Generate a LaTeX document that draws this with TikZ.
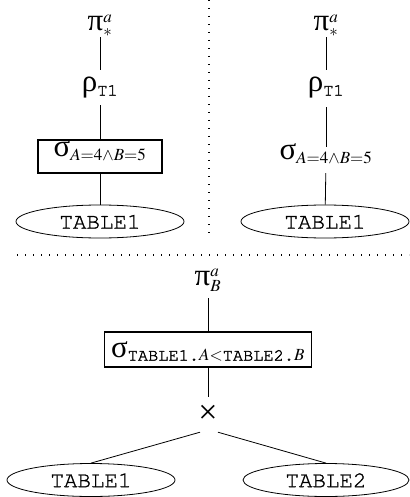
\documentclass[tikz,border=0pt]{standalone}
\usepackage{mathptmx}
\usepackage{amsmath}
\usepackage[T1]{fontenc}
\usepackage[no-math]{fontspec}
\setmainfont{Liberation Serif}
\usetikzlibrary{shapes.geometric}
\DeclareMathSizes{24}{24}{17}{12}
\newcommand{\cour}{\fontencoding{T1}\fontfamily{pcr}\selectfont}
\newcommand{\thk}[1]{\special{pdf:literal direct 2 Tr 0.28 w}#1\special{pdf:literal direct 0 Tr}}
\newcommand{\gk}[1]{{\fontsize{31}{34}\selectfont #1}}
\newcommand{\ct}[1]{\text{\cour\thk{#1}}}
\begin{document}
\begin{tikzpicture}[x=1pt,y=-1pt,
  lbl/.style={inner sep=0pt, anchor=base, font=\fontsize{24}{28}\selectfont},
  selbox/.style={lbl, draw, line width=1.6pt},
  conn/.style={line width=0.8pt},
  tbl/.style={ellipse, draw, line width=0.8pt, minimum width=168pt, minimum height=33pt, inner sep=0pt, font=\cour\fontsize{22.5}{26}\selectfont},
  sep/.style={line width=1.3pt, dash pattern=on 1.4pt off 6.6pt}]
\useasboundingbox (0,0) rectangle (409,497);
% separators
\coordinate (vt) at (209,0);
\coordinate (vb) at (209,237);
\coordinate (hl) at (17,255);
\coordinate (hr) at (409,255);
\draw[sep] (vt) -- (vb);
\draw[sep] (hl) -- (hr);
% top-left tree
\node[lbl, text height=20pt, text depth=6pt] (pA) at (100,31) {\gk{π}$^{a}_{*}$};
\node[lbl, text height=22pt, text depth=13pt] (rA) at (100,92) {\gk{ρ}$_{\ct{T1}}$};
\node[selbox, text height=17pt, text depth=16pt, minimum width=124pt] (sA) at (100,157) {\gk{σ}$_{A=4\wedge B=5}$};
\node[tbl] (tA) at (100,221.5) {\thk{TABLE1}};
\draw[conn] (pA) -- (rA);
\draw[conn] (rA) -- (sA);
\draw[conn] (sA) -- (tA);
% top-right tree
\node[lbl, text height=20pt, text depth=6pt] (pB) at (326,31) {\gk{π}$^{a}_{*}$};
\node[lbl, text height=22pt, text depth=15pt] (rB) at (326,92) {\gk{ρ}$_{\ct{T1}}$};
\node[lbl, text height=13pt, text depth=13pt] (sB) at (326,160) {\gk{σ}$_{A=4\wedge B=5}$};
\node[tbl] (tB) at (325,221.5) {\thk{TABLE1}};
\draw[conn] (pB) -- (rB);
\draw[conn] (rB) -- (sB);
\draw[conn] (sB) -- (tB);
% bottom tree
\node[lbl, text height=20pt, text depth=13pt] (pC) at (208,285) {\gk{π}$^{a}_{B}$};
\node[selbox, text height=25pt, text depth=10pt, minimum width=207pt] (sC) at (208,357) {\gk{σ}$_{\ct{TABLE1.}A<\ct{TABLE2.}B}$};
\node[lbl, text height=26pt, text depth=9pt, font=\fontsize{34}{38}\selectfont] (xC) at (208,423) {×};
\node[tbl] (t1) at (91,480) {\thk{TABLE1}};
\node[tbl, minimum width=166pt] (t2) at (326,480) {\thk{TABLE2}};
\draw[conn] (pC) -- (sC);
\draw[conn] (sC) -- (xC);
\draw[conn] ([xshift=-8pt]xC.south) -- (t1.north);
\draw[conn] ([xshift=10pt]xC.south) -- (t2.north);
\end{tikzpicture}
\end{document}
